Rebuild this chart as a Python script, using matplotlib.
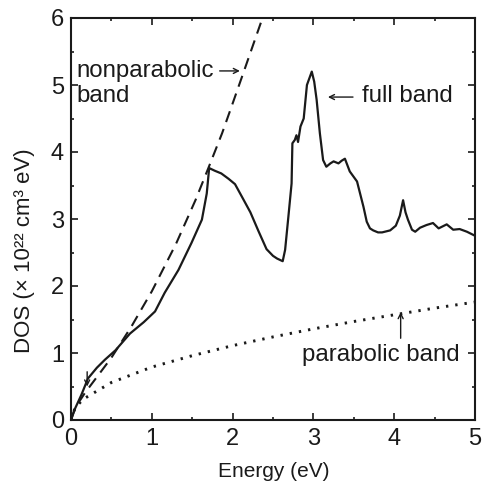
import matplotlib
matplotlib.use("Agg")
import matplotlib.pyplot as plt
from matplotlib.ticker import MultipleLocator

# ── Data ──────────────────────────────────────────────────────────────────────
energy_full = [0.00, 0.05, 0.13, 0.21, 0.32, 0.42, 0.55, 0.73, 0.90, 1.04,
               1.16, 1.33, 1.49, 1.62, 1.68, 1.71, 1.78, 1.86, 1.95, 2.03,
               2.13, 2.22, 2.32, 2.42, 2.50, 2.55, 2.62, 2.65, 2.69, 2.73,
               2.74, 2.77, 2.79, 2.81, 2.84, 2.88, 2.92, 2.98, 3.01, 3.04,
               3.08, 3.12, 3.16, 3.21, 3.25, 3.31, 3.35, 3.39, 3.45, 3.54,
               3.62, 3.66, 3.70, 3.74, 3.80, 3.85, 3.95, 4.02, 4.07, 4.11,
               4.14, 4.17, 4.22, 4.26, 4.32, 4.40, 4.48, 4.55, 4.65, 4.73,
               4.81, 4.90, 5.00]
dos_full = [0.00, 0.17, 0.38, 0.62, 0.78, 0.90, 1.04, 1.29, 1.46, 1.62,
            1.90, 2.24, 2.64, 2.99, 3.38, 3.76, 3.72, 3.68, 3.60, 3.52,
            3.30, 3.10, 2.82, 2.55, 2.45, 2.41, 2.37, 2.54, 3.03, 3.53,
            4.13, 4.18, 4.25, 4.15, 4.38, 4.50, 5.00, 5.20, 5.05, 4.78,
            4.28, 3.88, 3.78, 3.83, 3.86, 3.83, 3.87, 3.90, 3.71, 3.56,
            3.18, 2.96, 2.86, 2.83, 2.80, 2.80, 2.83, 2.90, 3.05, 3.28,
            3.10, 2.99, 2.84, 2.81, 2.87, 2.91, 2.94, 2.86, 2.92, 2.84,
            2.85, 2.81, 2.75]

energy_nonpar = [0.00, 0.05, 0.17, 0.50, 0.75, 1.00, 1.30, 1.54, 1.70, 1.87,
                 1.97, 2.13, 2.26, 2.37]
dos_nonpar = [0.00, 0.18, 0.40, 0.93, 1.40, 1.92, 2.63, 3.28, 3.76, 4.28,
              4.62, 5.17, 5.62, 6.00]

energy_par = [0.00, 0.05, 0.15, 0.50, 1.00, 1.50, 2.00, 2.50, 3.00, 3.50,
              4.00, 4.50, 5.00]
dos_par = [0.00, 0.18, 0.31, 0.56, 0.79, 0.96, 1.11, 1.24, 1.36, 1.47,
           1.57, 1.67, 1.76]

X_TICKS = [0, 1, 2, 3, 4, 5]
Y_TICKS = [0, 1, 2, 3, 4, 5, 6]

# ── Style ─────────────────────────────────────────────────────────────────────
FONT = ["Liberation Sans", "DejaVu Sans"]
plt.rcParams["font.family"] = FONT
INK = "#1a1a1a"

fig = plt.figure(figsize=(4.83, 4.84), dpi=100, facecolor="white")
ax = fig.add_axes([71 / 483, 64 / 484, 404 / 483, 402 / 484])

ax.plot(energy_full, dos_full, color=INK, lw=1.6, solid_joinstyle="round")
ax.plot(energy_nonpar, dos_nonpar, color=INK, lw=1.5, linestyle=(0, (5.5, 3.5)))
ax.plot(energy_par, dos_par, color=INK, lw=2.1, linestyle=(0, (0.8, 2.4)))

ax.set_xlim(0, 5)
ax.set_ylim(0, 6)
ax.set_xticks(X_TICKS)
ax.set_yticks(Y_TICKS)
ax.xaxis.set_minor_locator(MultipleLocator(0.5))
ax.yaxis.set_minor_locator(MultipleLocator(0.5))
ax.tick_params(which="both", direction="in", top=True, right=True,
               color=INK, width=1.2)
ax.tick_params(which="major", length=5, labelsize=17, labelcolor=INK)
ax.tick_params(axis="x", which="major", pad=6)
ax.tick_params(axis="y", which="major", pad=5)
ax.tick_params(which="minor", length=2.5)
for sp in ax.spines.values():
    sp.set_linewidth(1.5)
    sp.set_color(INK)

# ── Annotations ───────────────────────────────────────────────────────────────
TXT = dict(fontsize=17.3, color=INK)
ARROW = dict(arrowstyle="->", color=INK, lw=1.0, mutation_scale=9,
             shrinkA=0, shrinkB=0)

ax.text(0.07, 5.12, "nonparabolic", ha="left", va="baseline", **TXT)
ax.text(0.07, 4.75, "band", ha="left", va="baseline", **TXT)
ax.annotate("", xy=(2.09, 5.21), xytext=(1.84, 5.21), arrowprops=ARROW)

ax.text(3.60, 4.75, "full band", ha="left", va="baseline", **TXT)
ax.annotate("", xy=(3.18, 4.82), xytext=(3.49, 4.82), arrowprops=ARROW)

ax.text(2.86, 0.885, "parabolic band", ha="left", va="baseline", **TXT)
ax.annotate("", xy=(4.08, 1.61), xytext=(4.08, 1.22), arrowprops=ARROW)

# small marker near the band edge
ax.annotate("", xy=(0.20, 0.50), xytext=(0.20, 0.72), arrowprops=ARROW)

# ── Axis labels ───────────────────────────────────────────────────────────────
fig.text(274 / 483, 7 / 484, "Energy (eV)", ha="center", va="baseline",
         fontsize=15, color=INK)
fig.text(25 / 483, 233 / 484, "DOS (× 10²² cm³ eV)", ha="center", va="center",
         rotation=90, fontsize=16, color=INK)

fig.savefig("out.png", dpi=100, facecolor="white")
